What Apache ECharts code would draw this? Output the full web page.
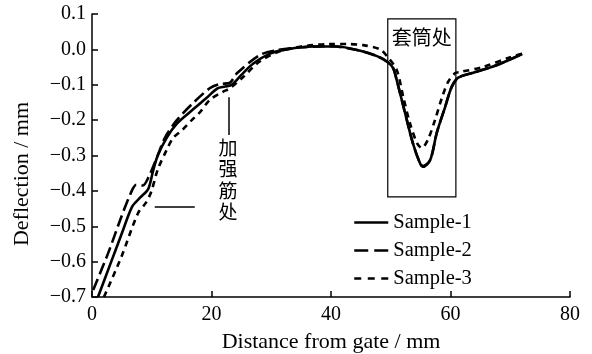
<!DOCTYPE html>
<html>
<head>
<meta charset="utf-8">
<script src="https://cdn.jsdelivr.net/npm/echarts@6/dist/echarts.min.js"></script>
<style>
html,body{margin:0;padding:0;background:#fff;}
#chart{width:592px;height:354px;}
</style>
</head>
<body>
<div id="chart"></div>
<script>
// ---- data ----
var s1X = [1.0, 3.0, 5.0, 6.7, 8.0, 9.4, 10.2, 11.0, 12.5, 14.2, 16.4, 19.2, 21.0, 22.3, 23.4, 25.0, 27.0, 29.8, 32.6, 37.0, 41.0, 44.9, 47.7, 49.4, 50.4, 51.0, 52.4, 53.7, 54.9, 55.4, 56.6, 57.7, 59.1, 60.2, 61.3, 63.8, 67.8, 72.0];
var s1Y = [-0.70, -0.61, -0.52, -0.445, -0.42, -0.395, -0.345, -0.30, -0.25, -0.21, -0.177, -0.137, -0.11, -0.105, -0.10, -0.072, -0.04, -0.012, 0.0, 0.008, 0.008, -0.004, -0.019, -0.035, -0.053, -0.087, -0.18, -0.265, -0.322, -0.332, -0.313, -0.236, -0.163, -0.106, -0.08, -0.066, -0.044, -0.013];

var s2X = [0.2, 2.7, 4.9, 6.5, 7.4, 8.5, 9.5, 10.9, 12.2, 14.2, 16.9, 19.7, 21.4, 23.0, 24.3, 28.1, 31.0, 35.0, 40.0, 44.9, 47.7, 49.4, 50.4, 51.0, 52.4, 53.7, 54.9, 55.4, 56.6, 57.7, 59.1, 60.2, 61.3, 63.8, 67.8, 72.0];
var s2Y = [-0.68, -0.576, -0.474, -0.406, -0.383, -0.385, -0.36, -0.304, -0.25, -0.2, -0.152, -0.11, -0.098, -0.095, -0.067, -0.016, -0.002, 0.006, 0.009, -0.004, -0.019, -0.035, -0.053, -0.087, -0.18, -0.265, -0.322, -0.33, -0.313, -0.236, -0.163, -0.106, -0.08, -0.066, -0.044, -0.013];

var s3X = [2.0, 4.9, 7.7, 9.0, 9.9, 11.0, 12.5, 13.6, 15.1, 16.7, 18.1, 19.7, 21.9, 23.1, 25.3, 28.0, 31.0, 35.0, 39.8, 42.7, 45.4, 48.2, 49.5, 51.0, 52.1, 53.2, 54.4, 55.2, 56.2, 57.4, 58.6, 59.6, 60.8, 61.6, 65.4, 70.0, 72.0];
var s3Y = [-0.70, -0.587, -0.463, -0.434, -0.403, -0.34, -0.284, -0.25, -0.228, -0.2, -0.177, -0.143, -0.12, -0.11, -0.078, -0.035, -0.008, 0.008, 0.015, 0.015, 0.012, 0.0, -0.022, -0.058, -0.135, -0.208, -0.265, -0.279, -0.256, -0.2, -0.135, -0.092, -0.067, -0.064, -0.05, -0.022, -0.012];

var seriesNames = ['Sample-1', 'Sample-2', 'Sample-3'];
var xTicks = [0, 20, 40, 60, 80];
var yTicks = [-0.7, -0.6, -0.5, -0.4, -0.3, -0.2, -0.1, 0.0, 0.1];

// annotation anchors (data coords)
var sleeveBox = {x0: 49.5, x1: 60.9, y0: 0.086, y1: -0.417, label: '套筒处'};
var ribLabel = {x: 22.76, y: -0.368, text: '加强筋处'};
var ribLineV = {x: 22.9, y0: -0.135, y1: -0.242};
var ribLineH = {x0: 10.5, x1: 17.2, y: -0.446};

function zip(xs, ys) { return xs.map(function (x, i) { return [x, ys[i]]; }); }

var serif = '"Liberation Serif", "Times New Roman", serif';
var cjk = '"Noto Sans CJK SC", sans-serif';
var dash2 = [12, 5];
var dash3 = [6, 5];

var chart = echarts.init(document.getElementById('chart'), null, {renderer: 'canvas'});

var option = {
  animation: false,
  backgroundColor: '#fff',
  grid: {left: 92, right: 22, top: 14, bottom: 57, containLabel: false, outerBoundsMode: 'none'},
  xAxis: {
    type: 'value', min: xTicks[0], max: xTicks[xTicks.length - 1], interval: 20,
    name: 'Distance from gate / mm', nameLocation: 'middle', nameGap: 34,
    nameTextStyle: {fontFamily: serif, fontSize: 22, color: '#000'},
    axisLine: {show: true, onZero: false, lineStyle: {color: '#000', width: 1.5}},
    axisTick: {show: true, inside: true, length: 6, lineStyle: {color: '#000', width: 1.5}},
    axisLabel: {fontFamily: serif, fontSize: 20, color: '#000', margin: 8},
    splitLine: {show: false}
  },
  yAxis: {
    type: 'value', min: yTicks[0], max: yTicks[yTicks.length - 1], interval: 0.1,
    axisLine: {show: true, onZero: false, lineStyle: {color: '#000', width: 1.5}},
    axisTick: {show: true, inside: true, length: 6, lineStyle: {color: '#000', width: 1.5}},
    axisLabel: {
      fontFamily: serif, fontSize: 20, color: '#000', margin: 6,
      formatter: function (v) { var r = Math.round(v * 10) / 10; return (r < 0 ? '\u2212' : '') + Math.abs(r).toFixed(1); }
    },
    splitLine: {show: false}
  },
  legend: {
    orient: 'vertical', left: 353, top: 212, padding: 0, itemWidth: 34, itemHeight: 14, itemGap: 7,
    textStyle: {fontFamily: serif, fontSize: 20.5, color: '#000'},
    itemStyle: {color: 'rgba(0,0,0,0)', borderWidth: 0, opacity: 0},
    data: [
      {name: seriesNames[0], lineStyle: {color: '#000', width: 2.5, type: 'solid', opacity: 1}},
      {name: seriesNames[1], lineStyle: {color: '#000', width: 2.5, type: [14, 6], opacity: 1}},
      {name: seriesNames[2], lineStyle: {color: '#000', width: 2.5, type: [7, 6.5], opacity: 1}}
    ]
  },
  graphic: [{
    type: 'text', x: 22, y: 174, rotation: Math.PI / 2,
    style: {text: 'Deflection / mm', font: '22px ' + serif, fill: '#000', align: 'center', verticalAlign: 'middle'}
  }],
  series: [
    {
      name: seriesNames[0], type: 'line', data: zip(s1X, s1Y), symbol: 'none', smooth: 0.3,
      lineStyle: {color: '#000', width: 2.6, type: 'solid'}, itemStyle: {color: '#000'}, z: 3,
      markArea: {
        silent: true,
        itemStyle: {color: 'rgba(0,0,0,0)', borderColor: '#000', borderWidth: 1.2},
        label: {show: true, position: 'insideTop', distance: 9, fontFamily: cjk, fontSize: 20, color: '#000'},
        data: [[{name: sleeveBox.label, coord: [sleeveBox.x0, sleeveBox.y0]}, {coord: [sleeveBox.x1, sleeveBox.y1]}]]
      },
      markLine: {
        silent: true, symbol: ['none', 'none'],
        lineStyle: {color: '#000', width: 1.5, type: 'solid'},
        label: {show: false},
        data: [
          [{coord: [ribLineV.x, ribLineV.y0]}, {coord: [ribLineV.x, ribLineV.y1]}],
          [{coord: [ribLineH.x0, ribLineH.y]}, {coord: [ribLineH.x1, ribLineH.y]}]
        ]
      },
      markPoint: {
        silent: true, symbol: 'circle', symbolSize: 1,
        itemStyle: {color: 'rgba(0,0,0,0)'},
        label: {
          show: true, position: 'inside', fontFamily: cjk, fontSize: 19, lineHeight: 21.5, color: '#000',
          formatter: function () { return ribLabel.text.split('').join('\n'); }
        },
        data: [{coord: [ribLabel.x, ribLabel.y]}]
      }
    },
    {
      name: seriesNames[1], type: 'line', data: zip(s2X, s2Y), symbol: 'none', smooth: 0.3,
      lineStyle: {color: '#000', width: 2.6, type: dash2}, itemStyle: {color: '#000'}, z: 2
    },
    {
      name: seriesNames[2], type: 'line', data: zip(s3X, s3Y), symbol: 'none', smooth: 0.3,
      lineStyle: {color: '#000', width: 2.6, type: dash3}, itemStyle: {color: '#000'}, z: 2
    }
  ]
};
chart.setOption(option);
</script>
</body>
</html>
